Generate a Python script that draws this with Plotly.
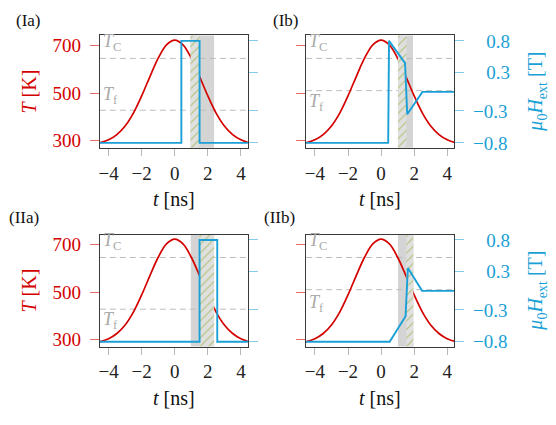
import plotly.graph_objects as go

# ---------------- data ----------------
t_T = [-5.0, -4.5, -4.0, -3.5, -3.0, -2.5, -2.0, -1.5, -1.0, -0.5, 0.0,
       0.5, 1.0, 1.5, 2.0, 2.5, 3.0, 3.5, 4.0, 4.5, 5.0]
T_K = [287, 292, 304, 326, 362, 416, 488, 569, 646, 702, 722,
       702, 646, 569, 488, 416, 362, 326, 304, 292, 287]

t_Ia = [-5.0, 0.40, 0.40, 1.50, 1.50, 5.0]
H_Ia = [-0.8, -0.8, 0.8, 0.8, -0.8, -0.8]
t_Ib = [-5.0, 0.43, 0.48, 1.45, 1.58, 2.50, 5.0]
H_Ib = [-0.8, -0.8, 0.8, 0.45, -0.35, 0.0, 0.0]
t_IIa = [-5.0, 1.50, 1.50, 2.57, 2.57, 5.0]
H_IIa = [-0.8, -0.8, 0.8, 0.8, -0.8, -0.8]
t_IIb = [-5.0, 0.52, 1.48, 1.62, 2.48, 5.0]
H_IIb = [-0.8, -0.8, -0.4, 0.36, 0.0, 0.0]

gray_bands = [[0.95, 2.38], [1.02, 1.93], [0.97, 2.38], [1.02, 1.95]]
hatch_bands = [[0.95, 1.50], [1.02, 1.53], [1.50, 2.38], [1.53, 1.95]]

T_C = 645
T_f = [428, 510, 428, 510]

panel_names = ["(Ia)", "(Ib)", "(IIa)", "(IIb)"]
x_ticks = [-4, -2, 0, 2, 4]
T_ticks = [300, 500, 700]
H_ticks = [-0.8, -0.3, 0.3, 0.8]
H_ticktext = ["\u22120.8", "\u22120.3", "\u2007\u20090.3", "\u2007\u20090.8"]

# ---------------- style ----------------
W, H = 556, 425
RED = "#d40000"
BLUE = "#1a9fd6"
FONT = "Liberation Serif"
X_RANGE = [-4.53, 4.42]
T_RANGE = [271, 741]
H_RANGE = [-0.876, 0.884]

# pixel boxes (left, right, top, bottom)
boxes = [(99, 247.3, 31.3, 146.5), (305.7, 454, 31.3, 146.5),
         (99, 247.3, 235.7, 350.7), (305.7, 454, 235.7, 350.7)]
H_series = [(t_Ia, H_Ia), (t_Ib, H_Ib), (t_IIa, H_IIa), (t_IIb, H_IIb)]
show_left = [True, False, True, False]
show_right = [False, True, False, True]
tf_label_T = [490, 459, 379, 452]
panel_label_pos = [(13, 15.7), (270, 15.7), (6, 218), (261, 218)]

def px(x):
    return x / W

def py(y):
    return 1 - y / H

fig = go.Figure()
layout = dict(width=W, height=H, margin=dict(l=0, r=0, t=0, b=0),
              paper_bgcolor="white", plot_bgcolor="white", showlegend=False,
              font=dict(family=FONT, size=19, color="#222"))
shapes = []
annotations = []

for p in range(4):
    xs = "x" if p == 0 else f"x{p+1}"
    yl_n = 2 * p + 1
    yr_n = 2 * p + 2
    yl = "y" if yl_n == 1 else f"y{yl_n}"
    yr = f"y{yr_n}"
    l, r, t, b = boxes[p]

    layout["xaxis" if p == 0 else f"xaxis{p+1}"] = dict(
        domain=[px(l), px(r)], anchor=yl, range=X_RANGE,
        tickvals=x_ticks, ticks="outside", ticklen=7, tickcolor="#b8b8b8",
        showline=True, mirror=True, linecolor="#3a3a3a", linewidth=1,
        showgrid=False, zeroline=False,
        tickfont=dict(family=FONT, size=19, color="#222"),
        ticklabelstandoff=1)
    layout["yaxis" if yl_n == 1 else f"yaxis{yl_n}"] = dict(
        domain=[py(b), py(t)], anchor=xs, range=T_RANGE,
        tickvals=T_ticks, ticks="outside", ticklen=9, tickcolor="#e66a6a",
        showticklabels=show_left[p],
        showline=True, mirror=True, linecolor="#3a3a3a", linewidth=1,
        showgrid=False, zeroline=False,
        tickfont=dict(family=FONT, size=19, color=RED),
        ticklabelstandoff=5)
    layout[f"yaxis{yr_n}"] = dict(
        overlaying=yl, side="right", anchor=xs, range=H_RANGE,
        tickvals=H_ticks, ticktext=H_ticktext, ticks="outside", ticklen=9,
        tickcolor="#86cbea", showticklabels=show_right[p],
        showline=False, showgrid=False, zeroline=False,
        tickfont=dict(family=FONT, size=19, color=BLUE),
        ticklabelstandoff=5)

    # gray band
    g0, g1 = gray_bands[p]
    shapes.append(dict(type="rect", xref=xs, yref=f"{yl} domain",
                       x0=g0, x1=g1, y0=0, y1=1, fillcolor="#d4d4d4",
                       line=dict(width=0), layer="below"))
    # dashed T lines
    for Tv in (T_C, T_f[p]):
        shapes.append(dict(type="line", xref=f"{xs} domain", yref=yl,
                           x0=0, x1=1, y0=Tv, y1=Tv,
                           line=dict(color="#bdbdbd", width=1, dash="6px,4px"),
                           layer="below"))

    # hatched band
    h0, h1 = hatch_bands[p]
    fig.add_trace(go.Scatter(
        x=[h0, h1, h1, h0, h0],
        y=[H_RANGE[0], H_RANGE[0], H_RANGE[1], H_RANGE[1], H_RANGE[0]],
        xaxis=xs, yaxis=yr, mode="lines", line=dict(width=0),
        fill="toself", fillcolor="#e0e0e0",
        fillpattern=dict(shape="/", fgcolor="#78a200", bgcolor="#e0e0e0",
                         size=6, solidity=0.17),
        hoverinfo="skip"))
    # temperature
    fig.add_trace(go.Scatter(x=t_T, y=T_K, xaxis=xs, yaxis=yl, mode="lines",
                             line=dict(color=RED, width=1.7, shape="spline")))
    # field
    tx, hy = H_series[p]
    fig.add_trace(go.Scatter(x=tx, y=hy, xaxis=xs, yaxis=yr, mode="lines",
                             line=dict(color=BLUE, width=1.9)))

    # T_C / T_f labels
    annotations.append(dict(xref=xs, yref=yl, x=-4.45, y=712, xanchor="left",
                            yanchor="middle", showarrow=False,
                            text="<i>T</i><sub>C</sub>",
                            font=dict(family=FONT, size=18, color="#a9a9a9")))
    annotations.append(dict(xref=xs, yref=yl, x=-4.45, y=tf_label_T[p],
                            xanchor="left", yanchor="middle", showarrow=False,
                            text="<i>T</i><sub>f</sub>",
                            font=dict(family=FONT, size=18, color="#a9a9a9")))
    # panel label
    lx, ly = panel_label_pos[p]
    annotations.append(dict(xref="paper", yref="paper", x=px(lx), y=py(ly),
                            xanchor="left", yanchor="middle", showarrow=False,
                            text=panel_names[p],
                            font=dict(family=FONT, size=17, color="#111")))
    # x title
    annotations.append(dict(xref="paper", yref="paper", x=px((l + r) / 2),
                            y=py(b + 53), xanchor="center", yanchor="middle",
                            showarrow=False, text="<i>t</i> [ns]",
                            font=dict(family=FONT, size=20, color="#111")))
    cy = py((t + b) / 2)
    if show_left[p]:
        annotations.append(dict(xref="paper", yref="paper", x=px(28), y=cy,
                                xanchor="center", yanchor="middle",
                                textangle=-90, showarrow=False,
                                text="<i>T</i> [K]",
                                font=dict(family=FONT, size=20, color=RED)))
    if show_right[p]:
        annotations.append(dict(xref="paper", yref="paper", x=px(537), y=cy,
                                xanchor="center", yanchor="middle",
                                textangle=-90, showarrow=False,
                                text="<i>\u03bc</i><sub>0</sub><i>H</i><sub>ext</sub> [T]",
                                font=dict(family=FONT, size=20, color=BLUE)))

layout["shapes"] = shapes
layout["annotations"] = annotations
fig.update_layout(**layout)
fig.write_html("out.html")
